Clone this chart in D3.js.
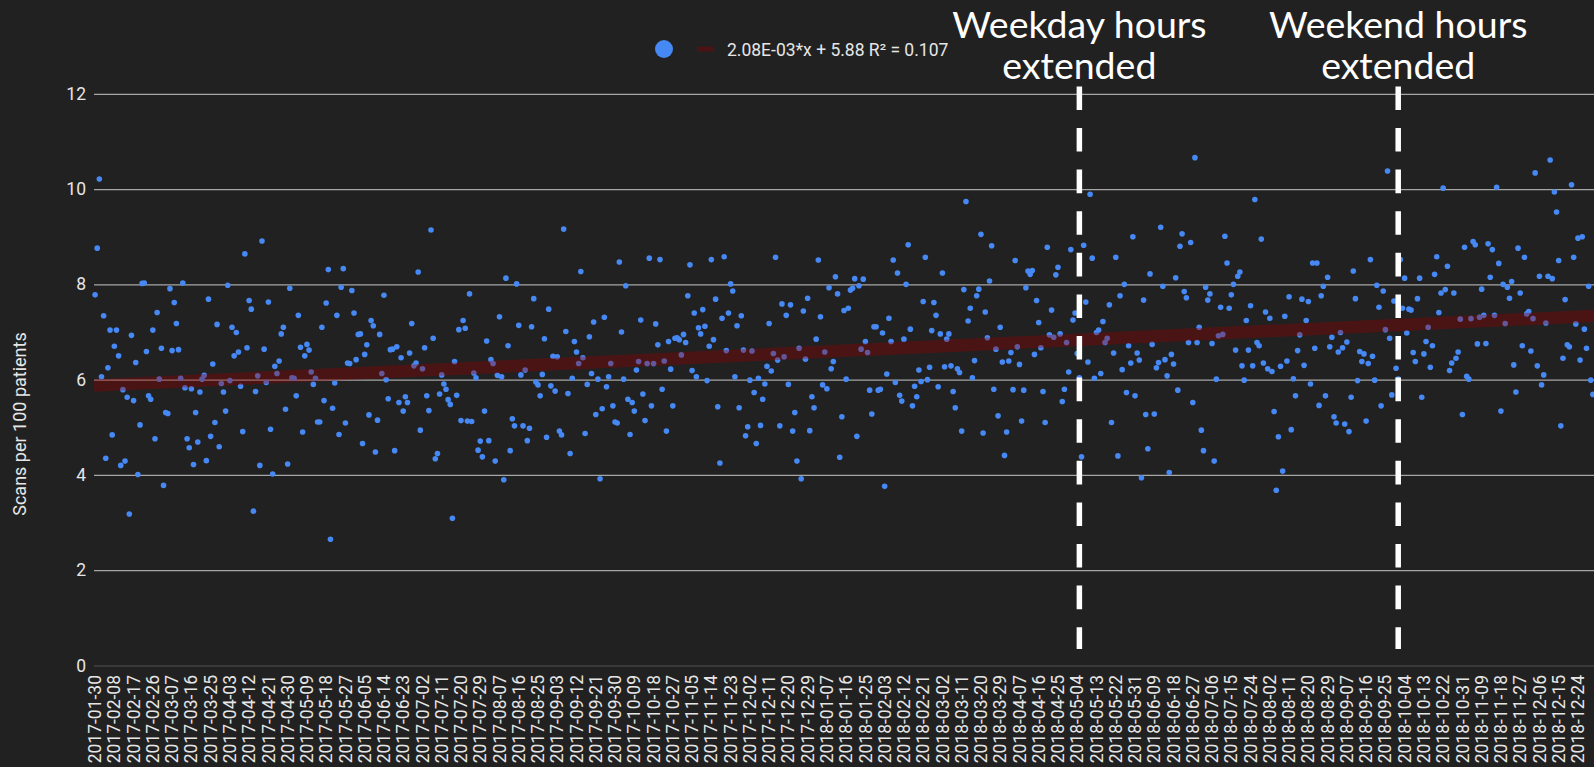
<!DOCTYPE html>
<html><head><meta charset="utf-8">
<script src="https://cdn.jsdelivr.net/npm/d3@7"></script>
<style>html,body{margin:0;padding:0;background:#212121;overflow:hidden}svg{display:block}</style>
</head><body>
<svg id="chart" width="1594" height="767"></svg>
<script>
// ---- data ----
const startDate = "2017-01-30";
const dayCount = 701;
const scanRates = [
7.78,8.76,10.21,6.06,7.34,4.35,6.25,7.04,4.84,6.70,7.04,6.50,4.20,5.79,4.29,5.63,3.18,6.93,5.56,6.36,
4.01,5.05,8.02,8.03,6.59,5.66,5.59,7.04,4.76,7.41,6.01,6.66,3.78,5.31,5.29,7.91,6.61,7.62,7.18,6.63,
6.03,8.03,5.83,4.76,4.57,5.81,4.22,5.31,4.69,5.74,6.01,6.09,4.30,7.69,4.81,6.33,5.10,7.16,4.59,5.92,
5.74,5.34,7.98,5.98,7.10,6.50,6.99,6.58,5.86,4.91,8.64,6.67,7.66,7.48,3.24,5.75,6.08,4.20,8.91,6.64,
5.94,7.63,4.96,4.02,6.28,6.13,6.39,6.96,7.10,5.38,4.23,7.92,6.04,6.03,5.66,7.35,6.68,4.90,6.50,6.74,
6.62,6.16,5.90,6.03,5.11,5.11,7.10,5.56,7.61,8.31,2.65,5.40,5.93,7.35,4.85,7.94,8.33,5.09,6.35,6.34,
7.87,7.40,6.42,6.95,6.96,4.66,6.53,6.73,5.26,7.24,7.13,4.48,5.15,6.95,6.13,7.77,6.00,5.60,6.63,6.64,
4.51,6.69,5.52,6.46,5.34,5.64,5.52,6.56,7.18,6.29,6.35,8.26,4.94,6.23,6.67,5.66,5.35,9.14,6.87,4.34,
4.45,5.70,6.10,5.91,5.80,5.58,5.48,3.09,6.38,5.67,7.05,5.14,7.24,7.08,5.13,7.80,5.12,6.14,6.04,4.52,
4.71,4.38,5.34,6.81,4.72,6.42,6.34,4.29,6.09,7.32,6.06,3.90,8.13,6.71,4.51,5.18,5.03,8.01,7.14,6.10,
5.03,6.20,4.72,4.98,7.11,7.70,5.95,5.89,5.66,6.11,6.86,4.79,7.48,5.87,6.49,5.76,6.48,4.92,4.84,9.16,
7.01,5.71,4.45,6.03,6.80,6.58,6.34,8.27,6.46,4.87,5.90,6.90,6.13,7.21,5.27,6.01,3.92,5.39,7.31,5.85,
6.06,6.34,5.45,5.11,5.09,8.47,7.00,6.01,7.97,5.59,4.85,5.52,5.34,6.20,6.38,7.25,5.70,5.14,6.34,8.55,
5.45,6.34,7.17,6.73,8.52,5.80,6.39,4.92,6.80,6.22,5.45,6.87,6.88,6.84,6.52,6.95,6.78,7.76,8.41,6.19,
7.40,6.06,7.09,6.96,7.47,7.12,5.98,6.70,8.52,6.84,7.69,5.43,4.25,7.29,8.58,6.61,7.40,8.01,7.86,6.06,
7.13,5.41,7.34,6.62,4.82,5.01,5.99,6.60,5.73,4.66,6.03,5.04,5.59,5.91,6.28,7.18,6.18,6.55,8.57,6.41,
5.03,7.59,6.48,7.35,5.90,7.57,4.92,5.31,4.29,6.66,3.92,7.44,6.43,7.71,4.93,5.64,5.41,6.85,8.51,7.32,
5.89,6.58,5.81,7.93,6.23,6.38,8.16,7.80,4.37,5.22,7.45,6.01,7.50,7.88,7.92,8.12,4.81,7.97,6.64,8.11,
6.80,6.57,5.78,5.28,7.11,7.11,5.78,5.80,6.98,3.76,6.12,7.29,6.80,8.51,5.94,8.24,5.67,5.55,6.85,8.00,
8.83,7.06,5.45,5.86,5.64,6.20,5.96,7.64,8.57,6.00,6.26,7.03,7.62,7.35,5.85,6.96,8.24,6.27,6.85,6.96,
6.29,5.75,5.41,6.23,6.15,4.92,7.89,9.74,7.23,7.50,6.04,6.40,7.76,7.90,9.05,4.88,7.42,6.88,8.07,8.81,
5.80,6.64,5.24,7.10,6.37,4.41,4.90,6.39,6.57,5.79,8.50,6.69,6.32,5.13,5.78,7.93,8.28,8.21,8.29,6.53,
7.66,7.20,6.67,5.75,5.10,8.78,6.94,7.46,6.89,8.20,8.36,6.96,5.54,5.80,6.78,6.16,8.73,7.25,7.40,6.55,
6.04,4.38,8.82,7.63,6.37,9.89,8.55,6.03,6.99,7.04,6.13,7.22,6.78,6.87,7.57,5.10,6.56,8.57,4.40,7.76,
6.21,8.00,5.73,6.71,6.35,9.00,5.66,6.56,6.41,3.94,7.67,5.27,4.55,8.22,6.74,5.28,6.25,6.36,9.20,7.96,
6.42,6.08,4.05,6.53,6.33,8.14,5.78,8.80,9.06,7.85,7.72,6.78,8.88,5.52,10.66,6.78,7.10,4.94,4.51,7.94,
7.67,7.80,6.76,4.29,6.01,6.92,7.52,6.95,9.01,8.45,7.50,7.78,8.00,6.62,8.17,8.26,6.29,5.99,7.24,6.62,
7.55,6.29,9.78,6.78,6.71,8.95,6.35,7.42,6.23,7.29,6.17,5.33,3.68,4.80,6.28,4.08,7.33,6.39,7.74,4.95,
6.02,5.66,6.61,6.94,7.69,6.30,7.24,7.64,5.91,8.45,6.66,8.45,5.46,7.76,7.96,5.66,8.15,6.69,6.89,5.22,
5.09,6.58,6.99,6.67,5.07,6.79,4.91,5.63,8.28,7.70,5.98,6.59,6.38,6.54,5.13,6.34,8.52,6.49,5.99,7.98,
7.52,5.45,7.86,7.05,10.38,6.87,5.68,7.65,6.24,6.01,8.52,7.50,8.13,6.98,7.48,7.46,6.57,6.38,7.70,8.13,
5.63,6.54,6.80,7.10,6.26,6.71,8.21,8.58,7.41,7.82,10.02,7.89,8.38,6.19,6.35,7.82,6.45,6.58,7.27,5.27,
8.78,6.07,6.01,7.28,8.90,8.83,6.75,7.31,7.90,7.35,6.76,8.85,8.15,8.73,7.35,10.04,8.44,5.34,8.00,7.18,
7.94,7.71,8.06,6.31,5.74,8.76,7.82,6.71,8.57,7.38,7.43,6.60,7.28,10.34,6.29,8.17,5.89,6.10,7.19,8.17,
10.61,8.12,9.94,9.52,8.50,5.03,6.45,7.68,6.73,6.69,10.09,8.57,7.17,8.97,6.41,9.00,7.06,6.66,7.96,5.99,5.69
];
const tickLabels = [
"2017-01-30","2017-02-08","2017-02-17","2017-02-26","2017-03-07","2017-03-16","2017-03-25","2017-04-03","2017-04-12","2017-04-21",
"2017-04-30","2017-05-09","2017-05-18","2017-05-27","2017-06-05","2017-06-14","2017-06-23","2017-07-02","2017-07-11","2017-07-20",
"2017-07-29","2017-08-07","2017-08-16","2017-08-25","2017-09-03","2017-09-12","2017-09-21","2017-09-30","2017-10-09","2017-10-18",
"2017-10-27","2017-11-05","2017-11-14","2017-11-23","2017-12-02","2017-12-11","2017-12-20","2017-12-29","2018-01-07","2018-01-16",
"2018-01-25","2018-02-03","2018-02-12","2018-02-21","2018-03-02","2018-03-11","2018-03-20","2018-03-29","2018-04-07","2018-04-16",
"2018-04-25","2018-05-04","2018-05-13","2018-05-22","2018-05-31","2018-06-09","2018-06-18","2018-06-27","2018-07-06","2018-07-15",
"2018-07-24","2018-08-02","2018-08-11","2018-08-20","2018-08-29","2018-09-07","2018-09-16","2018-09-25","2018-10-04","2018-10-13",
"2018-10-22","2018-10-31","2018-11-09","2018-11-18","2018-11-27","2018-12-06","2018-12-15","2018-12-24"
];
const yTicks = [0,2,4,6,8,10,12];
const yTitle = "Scans per 100 patients";
const trendSlope = 2.08e-3;
const trendIntercept = 5.88;
const trendLabel = "2.08E-03*x + 5.88 R\u00b2 = 0.107";
const annotationDates = ["2018-05-05","2018-10-01"];
const annotationLines = [["Weekday hours","extended"],["Weekend hours","extended"]];

// ---- chart ----
const W = 1594, H = 767;
const m = {left: 94, right: 0, top: 93.8, bottom: 101.5};
const svg = d3.select("#chart");
svg.append("rect").attr("width", W).attr("height", H).attr("fill", "#212121");

const fmt = d3.utcFormat("%Y-%m-%d");
const start = d3.utcParse("%Y-%m-%d")(startDate);
const categories = d3.range(dayCount).map(i => fmt(d3.utcDay.offset(start, i)));
const points = scanRates.map((v, i) => ({date: categories[i], idx: i, v}));

const x = d3.scaleBand().domain(categories).range([m.left, W - m.right]).padding(0);
const xc = d => x(d) + x.bandwidth() / 2;
const y = d3.scaleLinear().domain([0, 12]).range([H - m.bottom, m.top]);

const font = "Roboto, 'Noto Sans', sans-serif";

// gridlines + y labels
const yAxis = d3.axisLeft(y).tickValues(yTicks).tickSize(-(W - m.left - m.right)).tickPadding(8);
const gy = svg.append("g").attr("transform", `translate(${m.left},0)`).call(yAxis);
gy.select(".domain").remove();
gy.selectAll(".tick line").attr("stroke", d => d === 0 ? "#3a3a3a" : "#a6a6a6").attr("stroke-width", d => d === 0 ? 2 : 1.2);
gy.selectAll(".tick text").attr("fill", "#e6e6e6").attr("font-family", font).attr("font-size", 17.5);

// x axis labels
const xAxis = d3.axisBottom(x).tickValues(tickLabels).tickSize(0).tickPadding(0);
const gx = svg.append("g").attr("transform", `translate(0,${H - m.bottom})`).call(xAxis);
gx.select(".domain").remove();
gx.selectAll(".tick text")
  .attr("fill", "#e6e6e6").attr("font-family", font).attr("font-size", 17.5)
  .attr("text-anchor", "end")
  .attr("transform", "translate(0,9.5) rotate(-90)")
  .attr("x", 0).attr("y", 0).attr("dy", "0.35em");

// points
svg.append("g").selectAll("circle").data(points).join("circle")
  .attr("cx", d => xc(d.date)).attr("cy", d => y(d.v)).attr("r", 2.8)
  .attr("fill", "#4688f4");

// trend band
const x0 = m.left, x1 = W - m.right;
const i0 = -0.5, i1 = dayCount - 0.5;
svg.append("line")
  .attr("x1", x0).attr("x2", x1)
  .attr("y1", y(trendIntercept + trendSlope * i0))
  .attr("y2", y(trendIntercept + trendSlope * i1))
  .attr("stroke", "rgba(150,0,0,0.37)").attr("stroke-width", 12.5);

// y title
svg.append("text").attr("transform", "translate(19.5,424) rotate(-90)")
  .attr("text-anchor", "middle").attr("dy", "0.35em")
  .attr("fill", "#e6e6e6").attr("font-family", font).attr("font-size", 18)
  .text(yTitle);

// annotations
annotationDates.forEach((dt, k) => {
  const ax = xc(dt);
  svg.append("line").attr("x1", ax).attr("x2", ax).attr("y1", 86.4).attr("y2", 649)
    .attr("stroke", "#ffffff").attr("stroke-width", 5.5).attr("stroke-dasharray", "23.6 18");
  annotationLines[k].forEach((t, j) => {
    svg.append("text").attr("x", ax).attr("y", 37.5 + j * 41)
      .attr("text-anchor", "middle").attr("fill", "#ffffff")
      .attr("font-family", "Lato, 'Open Sans', sans-serif").attr("font-size", 37.5)
      .text(t);
  });
});

// legend
const lg = svg.append("g");
lg.append("circle").attr("cx", 664).attr("cy", 49).attr("r", 9).attr("fill", "#4688f4");
lg.append("line").attr("x1", 697).attr("x2", 714).attr("y1", 49).attr("y2", 49)
  .attr("stroke", "rgba(150,0,0,0.37)").attr("stroke-width", 5);
lg.append("text").attr("x", 727).attr("y", 55.5).attr("fill", "#e6e6e6")
  .attr("font-family", font).attr("font-size", 17.5).text(trendLabel);
</script>
</body></html>
